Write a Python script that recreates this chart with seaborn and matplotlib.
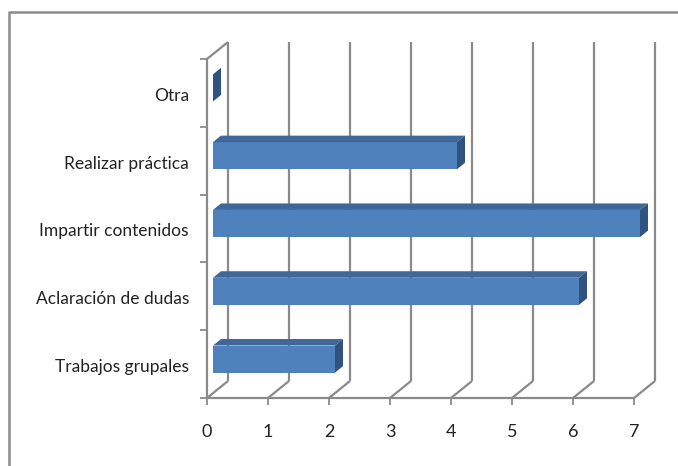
import matplotlib
matplotlib.use('Agg')
import matplotlib.pyplot as plt
from matplotlib.patches import Polygon
from matplotlib.transforms import ScaledTranslation
import pandas as pd
import seaborn as sns

categorias = ['Otra', 'Realizar práctica', 'Impartir contenidos', 'Aclaración de dudas', 'Trabajos grupales']
valores = [0, 4, 7, 6, 2]
ticks_x = [0, 1, 2, 3, 4, 5, 6, 7]

GRIS = '#8A8A8A'
FRENTE = '#4F81BD'
ARRIBA = '#3F6797'
LADO = '#2F5380'

sns.set_theme(style='white')
plt.rcParams['font.family'] = ['Lato', 'DejaVu Sans']

W, H = 678, 466
fig = plt.figure(figsize=(W / 100, H / 100), dpi=100)
ax = fig.add_axes([207 / W, (H - 398) / H, 427 / W, 339 / H])
ax.patch.set_alpha(0)

df = pd.DataFrame({'cat': categorias, 'val': valores})
sns.barplot(data=df, x='val', y='cat', orient='h', width=0.4, color=FRENTE,
            saturation=1, ax=ax, zorder=4, clip_on=False)
ax.set_xlim(0, 7)
ax.set_ylim(4.5, -0.5)
ax.set_xlabel('')
ax.set_ylabel('')

# pasar de pixeles a unidades de datos
px = 7 / 427
py = 5 / 339


def linea(xs, ys):
    ax.plot(xs, ys, color=GRIS, lw=1.6, clip_on=False, zorder=1, solid_capstyle='butt')


# pared y suelo falsos en 3D
for t in ticks_x:
    linea([t, t + 21 * px], [4.5, 4.5 - 17 * py])
    linea([t + 21 * px, t + 21 * px], [4.5 - 17 * py, -0.5 - 17 * py])
linea([0, 21 * px], [-0.5, -0.5 - 17 * py])

# caras de cada barra
dx0, dy0 = 6 * px, 5 * py
dx, dy = 8 * px, 6.5 * py
for p in ax.patches:
    x0 = p.get_x()
    w = p.get_width()
    y0 = p.get_y()
    h = p.get_height()
    p.set_xy((x0 + dx0, y0 - dy0))
    p.set_linewidth(0)
    x0 += dx0
    y0 -= dy0
    ax.add_patch(Polygon([(x0, y0), (x0 + dx, y0 - dy), (x0 + w + dx, y0 - dy), (x0 + w, y0)],
                         color=ARRIBA, lw=0, clip_on=False, zorder=4))
    ax.add_patch(Polygon([(x0 + w, y0), (x0 + w + dx, y0 - dy), (x0 + w + dx, y0 + h - dy), (x0 + w, y0 + h)],
                         color=LADO, lw=0, clip_on=False, zorder=4))

sns.despine(ax=ax, top=True, right=True)
for lado in ['left', 'bottom']:
    ax.spines[lado].set_color(GRIS)
    ax.spines[lado].set_linewidth(1.6)
    ax.spines[lado].set_zorder(2)

ax.set_xticks(ticks_x)
ax.tick_params(axis='x', length=5, width=1.3, color=GRIS, pad=14, labelsize=13, labelcolor='#222222', bottom=True)
ax.set_yticks(range(len(categorias)))
ax.set_yticklabels(categorias)
ax.tick_params(axis='y', which='major', length=0, pad=13, labelsize=12.5, labelcolor='#222222')
ax.set_yticks([i - 0.5 for i in range(len(categorias) + 1)], minor=True)
ax.tick_params(axis='y', which='minor', length=5, width=1.3, color=GRIS, left=True)

# las etiquetas quedan un poco mas abajo en el original
bajar = ScaledTranslation(0, -1.5 / 100, fig.dpi_scale_trans)
for etiqueta in ax.get_yticklabels():
    etiqueta.set_transform(etiqueta.get_transform() + bajar)

# marco de la imagen: solo arriba e izquierda
fig.add_artist(plt.Line2D([8.5 / W, 8.5 / W, 1], [0, 1 - 12 / H, 1 - 12 / H], color=GRIS, lw=1.8))

fig.savefig('out.png', dpi=100)
